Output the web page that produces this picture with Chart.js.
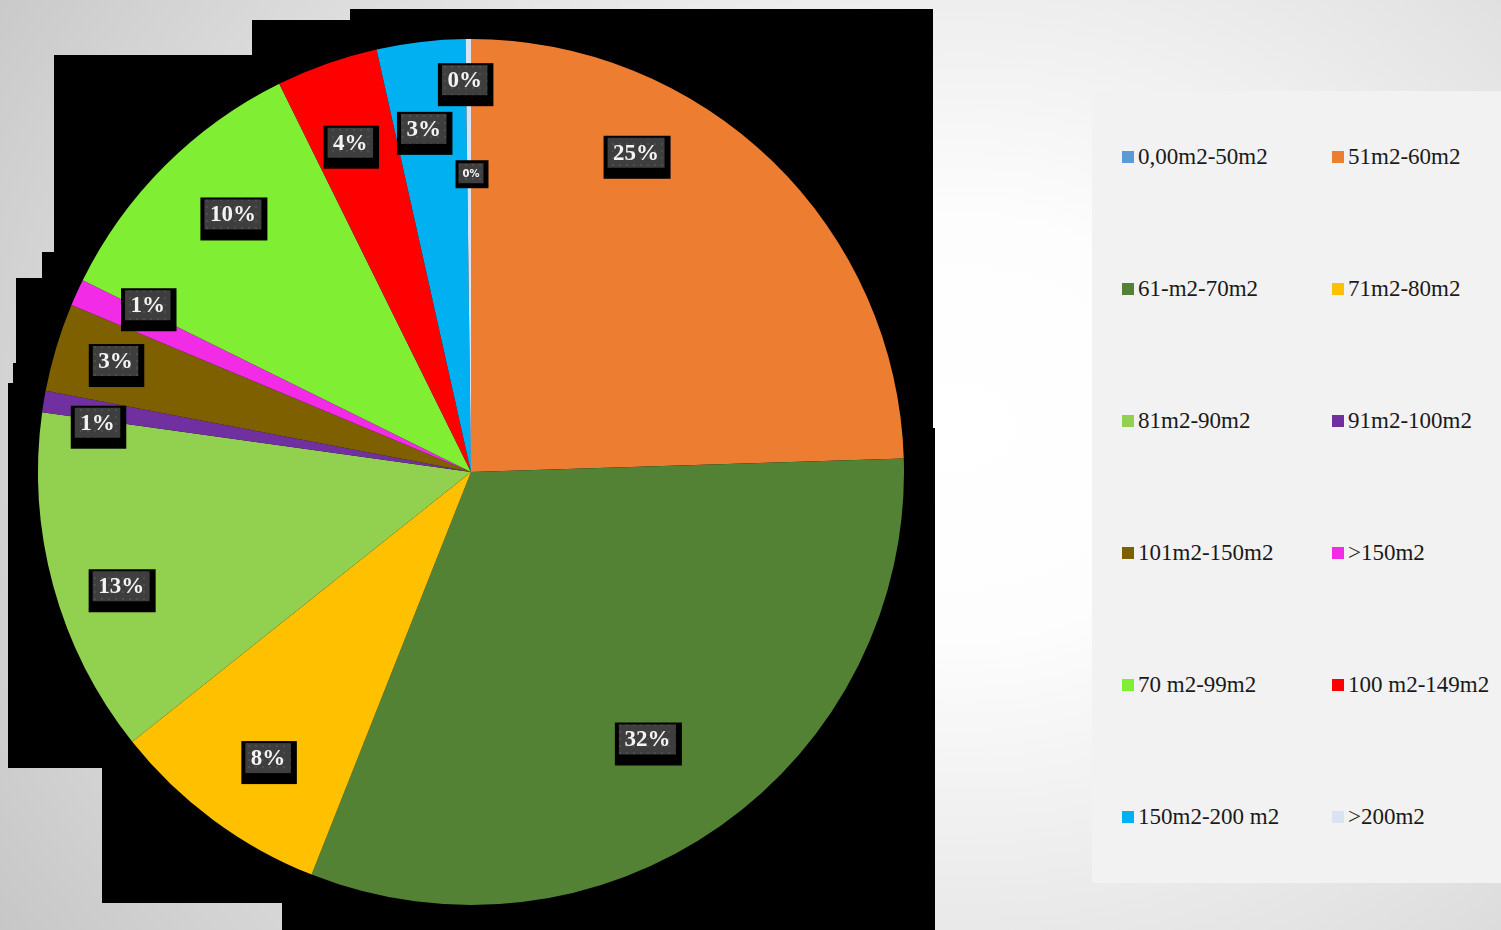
<!DOCTYPE html>
<html>
<head>
<meta charset="utf-8">
<script src="https://cdn.jsdelivr.net/npm/chart.js@4"></script>
<style>
    html, body { margin: 0; padding: 0; }
    body {
        width: 1501px; height: 930px; overflow: hidden; position: relative;
        background: radial-gradient(ellipse 1150px 950px at 64% 46%, #ffffff 0%, #fdfdfd 22%, #e4e4e4 60%, #c6c6c6 100%);
    }
    #myPie { position: absolute; left: 0; top: 0; }
    #legendBox {
        position: absolute; left: 1092px; top: 91px; width: 409px; height: 792px;
        background: #f2f2f2;
        font-family: "Liberation Serif", "Times New Roman", serif; font-size: 23px; color: #1a1a1a;
    }
    .legItem { position: absolute; height: 24px; line-height: 24px; white-space: nowrap; }
    .legItem span.box { position: absolute; left: 0; top: 6px; width: 12px; height: 12px; }
    .legItem span.txt { position: absolute; left: 16px; top: 0; }
</style>
</head>
<body>
<canvas id="myPie" width="1501" height="930"></canvas>
<div id="legendBox"></div>
<script>
// categorias (faixas de area) e porcentagens
const categorias = ['0,00m2-50m2', '51m2-60m2', '61-m2-70m2', '71m2-80m2', '81m2-90m2', '91m2-100m2',
    '101m2-150m2', '>150m2', '70 m2-99m2', '100 m2-149m2', '150m2-200 m2', '>200m2'];
const valores = [0, 24.5, 31.5, 8.3, 12.9, 0.8, 3.3, 1.0, 10.4, 3.8, 3.3, 0.2];
const cores = ['#5B9BD5', '#ED7D31', '#548235', '#FFC000', '#92D050', '#7030A0',
    '#7F6000', '#F12BE6', '#80EE33', '#FF0000', '#00B0F0', '#DAE3F3'];

// onde cada rotulo fica em relacao a fatia (fracao do angulo, fracao do raio)
const rotuloAng = [0, 0.31, 0.515, 0.46, 0.44, -0.14, 0.55, 1.28, 0.56, 0.45, 0.40, -0.29];
const rotuloRaio = [0.69, 0.83, 0.74, 0.81, 0.85, 0.87, 0.86, 0.84, 0.81, 0.81, 0.80, 0.905];

// textura pontilhada das caixas de rotulo
const padCanvas = document.createElement('canvas');
padCanvas.width = 7; padCanvas.height = 7;
const pctx = padCanvas.getContext('2d');
pctx.fillStyle = '#3e3e3e';
pctx.fillRect(0, 0, 7, 7);
pctx.fillStyle = '#4e4e4e';
pctx.fillRect(3, 3, 2, 2);

// fundo preto em degraus atras da pizza
const fundoPreto = {
    id: 'fundoPreto',
    beforeDraw(chart) {
        const c = chart.ctx;
        const pts = [[350, 9], [933, 9], [933, 428], [935, 428], [935, 930], [282, 930], [282, 903],
            [102, 903], [102, 768], [8, 768], [8, 383], [13, 383], [13, 363], [16, 363], [16, 278],
            [42, 278], [42, 252], [54, 252], [54, 55], [252, 55], [252, 20], [350, 20]];
        c.save();
        c.fillStyle = '#000000';
        c.beginPath();
        pts.forEach((p, i) => i ? c.lineTo(p[0], p[1]) : c.moveTo(p[0], p[1]));
        c.closePath();
        c.fill();
        c.restore();
    }
};

const rotulos = {
    id: 'rotulos',
    afterDatasetsDraw(chart) {
        const c = chart.ctx;
        const meta = chart.getDatasetMeta(0);
        const total = Math.round(valores.reduce((a, b) => a + b, 0) * 1000) / 1000;
        const pattern = c.createPattern(padCanvas, 'repeat');
        meta.data.forEach((arc, i) => {
            const p = arc.getProps(['x', 'y', 'startAngle', 'endAngle', 'outerRadius'], true);
            const ang = p.startAngle + rotuloAng[i] * (p.endAngle - p.startAngle);
            const r = p.outerRadius * rotuloRaio[i];
            const cx = p.x + Math.cos(ang) * r;
            const cy = p.y + Math.sin(ang) * r;
            const texto = Math.round(valores[i] * 100 / total) + '%';
            const pequeno = (i === 0);
            c.save();
            c.font = pequeno ? 'bold 10px "DejaVu Sans"' : 'bold 23px "Liberation Serif"';
            const w = c.measureText(texto).width + (pequeno ? 8 : 11);
            const h = pequeno ? 20 : 30;
            const x0 = cx - w / 2, y0 = cy - h / 2;
            c.fillStyle = '#000000';
            if (pequeno) c.fillRect(x0 - 3, y0 - 3, w + 8, h + 8);
            else c.fillRect(x0 - 4, y0 - 2, w + 10, h + 13);
            c.fillStyle = pattern;
            c.fillRect(x0, y0, w, h);
            c.fillStyle = '#f4f4f4';
            c.textAlign = 'center';
            c.textBaseline = 'middle';
            c.fillText(texto, cx, cy + 1);
            c.restore();
        });
    }
};

const ctx = document.getElementById('myPie').getContext('2d');
const myPie = new Chart(ctx, {
    type: 'pie',
    data: {
        labels: categorias,
        datasets: [{
            data: valores,
            backgroundColor: cores,
            borderWidth: 0
        }]
    },
    options: {
        responsive: false,
        animation: false,
        layout: { padding: { left: 38, top: 39, right: 597, bottom: 25 } },
        plugins: {
            legend: { display: false },
            tooltip: { enabled: false }
        }
    },
    plugins: [fundoPreto, rotulos]
});

// legenda em duas colunas (ordem por linha)
const legendBox = document.getElementById('legendBox');
categorias.forEach((nome, i) => {
    const col = i % 2, lin = Math.floor(i / 2);
    const item = document.createElement('div');
    item.className = 'legItem';
    item.style.left = (col ? 240 : 30) + 'px';
    item.style.top = (54 + lin * 132) + 'px';
    item.innerHTML = '<span class="box" style="background:' + cores[i] + '"></span><span class="txt"></span>';
    item.querySelector('.txt').textContent = nome;
    legendBox.appendChild(item);
});
</script>
</body>
</html>
